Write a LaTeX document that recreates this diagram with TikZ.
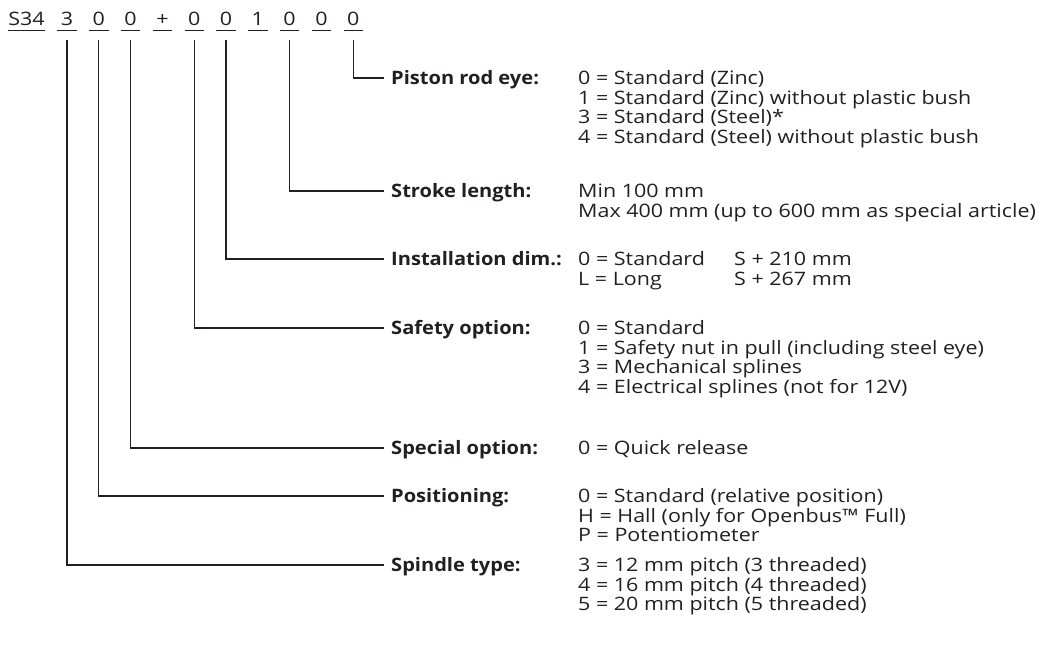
\documentclass[tikz,border=0pt]{standalone}
\usepackage{fontspec}
\setmainfont{Open Sans}
\newfontfamily\valfont{Open Sans}[FakeStretch=1.16]
\newfontfamily\fieldfont{Open Sans}[FakeStretch=1.085]
\usetikzlibrary{positioning}
\definecolor{inkgray}{RGB}{35,31,32}
\newcommand{\codesize}{\fontsize{18.5}{19.5}\selectfont}
\newcommand{\valstack}[1]{\vtop{\lineskiplimit=-30pt\relax\baselineskip=19.5pt\relax #1}}

\begin{document}
\begin{tikzpicture}[x=1pt, y=-1pt,
    codechar/.style={font=\codesize\valfont, text=inkgray, inner sep=0pt,
                     text height=13.5pt, text depth=5pt, anchor=base},
    field/.style={font=\codesize\fieldfont\bfseries, text=inkgray, inner sep=0pt,
                  text height=13.4pt, text depth=0pt, anchor=west},
    values/.style={font=\codesize\valfont, text=inkgray, inner sep=0pt, anchor=base west},
    leader/.style={draw=inkgray, line width=1.1pt},
    uline/.style={draw=inkgray, line width=1.1pt}]
  \useasboundingbox (0,0) rectangle (1041,648);

  % Type code
  \node[codechar] (s34) at (26.5,25) {S34};
  \draw[uline] (s34.south west) -- (s34.south east);
  \foreach \c [count=\i] in {3,0,0,+,0,0,1,0,0,0} {
    \node[codechar, minimum width=19pt] (d\i) at (67+31.8*\i-31.8,25) {\c};
    \draw[uline] (d\i.south west) -- (d\i.south east);
  }

  % Fields
  \coordinate (valcol) at (578,0);
  \coordinate (dimcol) at (734,0);
  \node[field] (piston)  at (391,78)  {Piston rod eye:};
  \node[field] (stroke)  at (391,191) {Stroke length:};
  \node[field] (install) at (391,259) {Installation dim.:};
  \node[field] (safety)  at (391,328) {Safety option:};
  \node[field] (special) at (391,448) {Special option:};
  \node[field] (posn)    at (391,496) {Positioning:};
  \node[field] (spindle) at (391,565) {Spindle type:};

  % Values
  \node[values] (pistonval) at (valcol |- piston.base) {\valstack{
    \hbox{0 = Standard (Zinc)}
    \hbox{1 = Standard (Zinc) without plastic bush}
    \hbox{3 = Standard (Steel)*}
    \hbox{4 = Standard (Steel) without plastic bush}}};
  \node[values] (strokeval) at (valcol |- stroke.base) {\valstack{
    \hbox{Min 100 mm}
    \hbox{Max 400 mm (up to 600 mm as special article)}}};
  \node[values] (installval) at (valcol |- install.base) {\valstack{
    \hbox{0 = Standard}
    \hbox{L = Long}}};
  \node[values] (installdim) at (dimcol |- install.base) {\valstack{
    \hbox{S + 210 mm}
    \hbox{S + 267 mm}}};
  \node[values] (safetyval) at (valcol |- safety.base) {\valstack{
    \hbox{0 = Standard}
    \hbox{1 = Safety nut in pull (including steel eye)}
    \hbox{3 = Mechanical splines}
    \hbox{4 = Electrical splines (not for 12V)}}};
  \node[values] (specialval) at (valcol |- special.base) {0 = Quick release};
  \node[values] (posnval) at (valcol |- posn.base) {\valstack{
    \hbox{0 = Standard (relative position)}
    \hbox{H = Hall (only for Openbus™ Full)}
    \hbox{P = Potentiometer}}};
  \node[values] (spindleval) at (valcol |- spindle.base) {\valstack{
    \hbox{3 = 12 mm pitch (3 threaded)}
    \hbox{4 = 16 mm pitch (4 threaded)}
    \hbox{5 = 20 mm pitch (5 threaded)}}};

  % Leaders
  \draw[leader] ([yshift=-10pt]d10.south) |- ([xshift=-7pt]piston.west);
  \draw[leader] ([yshift=-10pt]d8.south)  |- ([xshift=-7pt]stroke.west);
  \draw[leader] ([yshift=-10pt]d6.south)  |- ([xshift=-7pt]install.west);
  \draw[leader] ([yshift=-10pt]d5.south)  |- ([xshift=-7pt]safety.west);
  \draw[leader] ([yshift=-10pt]d3.south)  |- ([xshift=-7pt]special.west);
  \draw[leader] ([yshift=-10pt]d2.south)  |- ([xshift=-7pt]posn.west);
  \draw[leader] ([yshift=-10pt]d1.south)  |- ([xshift=-7pt]spindle.west);
\end{tikzpicture}
\end{document}
